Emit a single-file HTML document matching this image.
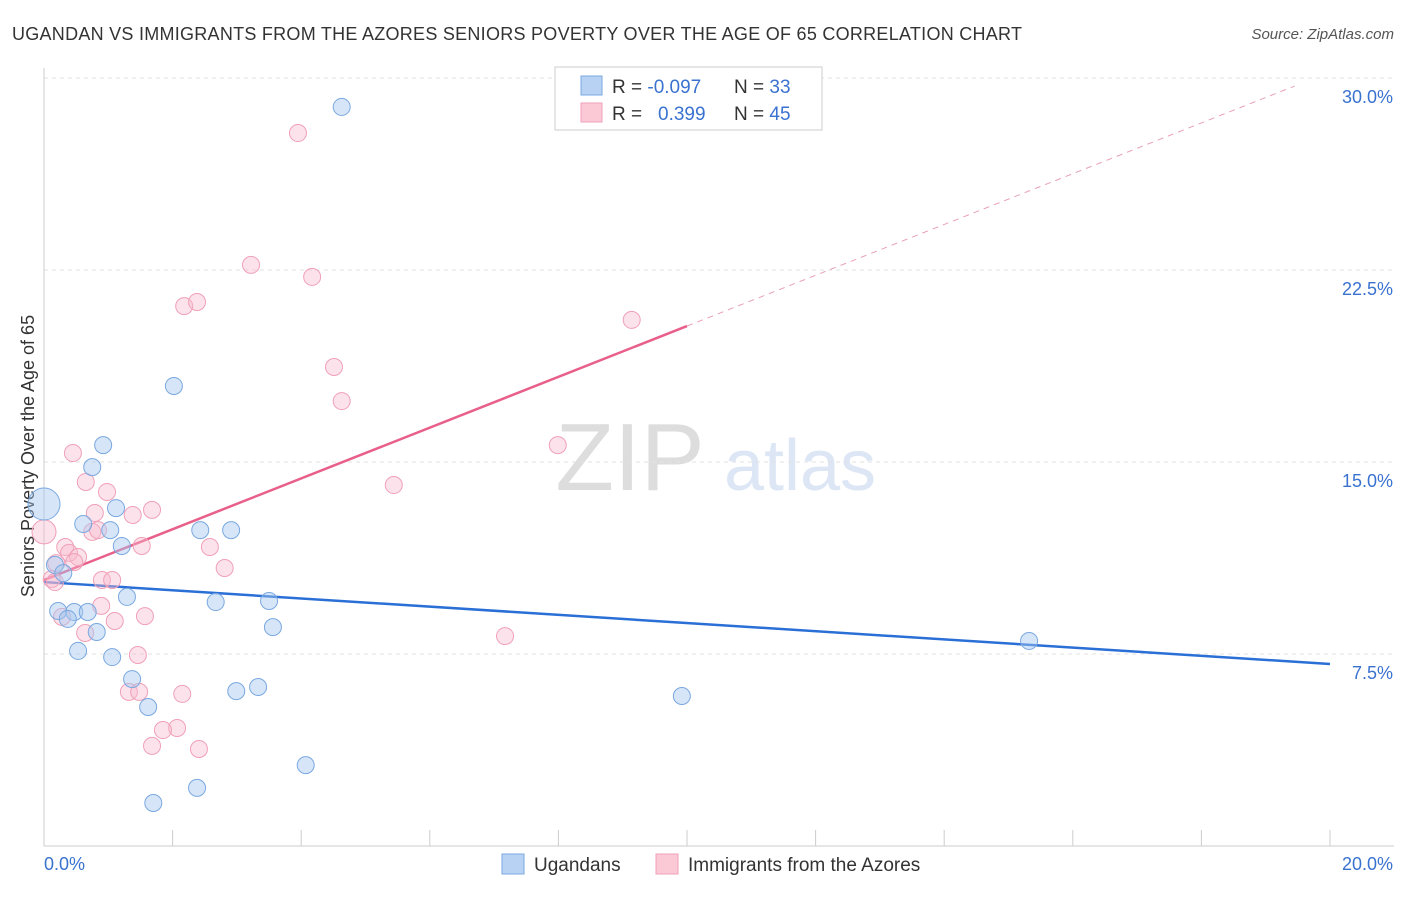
<!DOCTYPE html>
<html><head><meta charset="utf-8"><style>
body{margin:0;background:#fff;font-family:"Liberation Sans",sans-serif;}
svg text{font-family:"Liberation Sans",sans-serif;}
</style></head><body>
<svg id="chart" width="1406" height="892">
<text x="12" y="40" font-size="18" fill="#333" textLength="1010" lengthAdjust="spacing">UGANDAN VS IMMIGRANTS FROM THE AZORES SENIORS POVERTY OVER THE AGE OF 65 CORRELATION CHART</text>
<text x="1394" y="39" font-size="15" fill="#555" font-style="italic" text-anchor="end">Source: ZipAtlas.com</text>
<text x="630" y="490" font-size="96" fill="#ddd" text-anchor="middle" font-family="Liberation Serif">ZIP</text>
<text x="800" y="490" font-size="72" fill="#dce6f5" text-anchor="middle">atlas</text>
<text x="34" y="456" font-size="18" fill="#333" text-anchor="middle" transform="rotate(-90 34 456)">Seniors Poverty Over the Age of 65</text>
<g id="grid"></g><g id="axes"></g><g id="trends"></g><g id="points"></g>
<g>
<rect x="555" y="67" width="267" height="63" fill="#fff" stroke="#ccc"/>
<rect x="581" y="76" width="21" height="19" fill="#b8d2f4" stroke="#7aa8e0"/>
<rect x="581" y="103" width="21" height="19" fill="#fbc8d6" stroke="#f0a0b8"/>
<text x="612" y="93" font-size="19" fill="#333">R = <tspan fill="#3a72d0">-0.097</tspan></text>
<text x="734" y="93" font-size="19" fill="#333">N = <tspan fill="#3a72d0">33</tspan></text>
<text x="612" y="120" font-size="19" fill="#333">R = <tspan fill="#3a72d0" x="658">0.399</tspan></text>
<text x="734" y="120" font-size="19" fill="#333">N = <tspan fill="#3a72d0">45</tspan></text>
</g>
<g>
<rect x="502" y="854" width="22" height="20" fill="#b8d2f4" stroke="#7aa8e0"/>
<text x="534" y="871" font-size="19" fill="#333">Ugandans</text>
<rect x="656" y="854" width="22" height="20" fill="#fbc8d6" stroke="#f0a0b8"/>
<text x="688" y="871" font-size="19" fill="#333">Immigrants from the Azores</text>
</g>
</svg>
<script>
const blueX=[0,4.63,2.02,0.92,0.75,1.12,0.61,1.03,1.21,2.43,2.91,0.17,0.30,1.29,2.67,3.50,0.22,0.47,0.68,0.37,0.82,3.56,0.53,1.06,1.37,2.99,3.33,1.62,4.07,1.70,2.38,9.92,15.32];
const blueY=[13.36,28.87,17.97,15.66,14.80,13.20,12.58,12.34,11.72,12.34,12.34,10.98,10.66,9.73,9.53,9.57,9.18,9.14,9.14,8.87,8.36,8.55,7.62,7.38,6.52,6.05,6.21,5.43,3.16,1.68,2.27,5.86,8.01];
const pinkX=[3.95,3.22,4.17,2.18,2.38,9.14,4.51,4.63,7.99,0.45,5.44,0.65,0.98,1.68,1.38,0.79,0.75,0.84,0,1.52,2.58,0.33,0.39,0.53,0.47,2.81,0.19,0.12,0.17,0.90,1.06,0.89,1.10,1.57,0.28,0.64,7.17,1.46,1.32,1.48,2.15,2.07,1.85,1.68,2.41];
const pinkY=[27.85,22.70,22.23,21.09,21.25,20.55,18.71,17.38,15.66,15.35,14.10,14.22,13.83,13.13,12.93,13.01,12.27,12.34,12.27,11.72,11.68,11.68,11.45,11.29,11.09,10.86,11.05,10.43,10.31,10.39,10.39,9.38,8.79,8.98,8.95,8.32,8.20,7.46,6.02,6.02,5.94,4.61,4.53,3.91,3.79];
const blueTrend=[10.31,7.11];
const pinkTrend=[10.39,20.31];
const pinkSolidEnd=10.0;
const pinkDashEnd=19.45;
const yTicks=[7.5,15,22.5,30];
const yTickLabels=["7.5%","15.0%","22.5%","30.0%"];
const xTicks=[2,4,6,8,10,12,14,16,18,20];
const NS="http://www.w3.org/2000/svg";
const X=v=>44+v*64.3, Y=v=>846-v*25.6;
function mk(t,a,p){const e=document.createElementNS(NS,t);for(const k in a)e.setAttribute(k,a[k]);document.getElementById(p).appendChild(e);return e;}
yTicks.forEach((v,i)=>{
  const g=mk('line',{x1:44,x2:1394,y1:Y(v),y2:Y(v),stroke:'#e2e2e2','stroke-dasharray':'4,4'},'grid');
  
  
  const t=mk('text',{x:1393,y:Y(v)+25,'font-size':18,fill:'#3a72d0','text-anchor':'end'},'axes');
  t.textContent=yTickLabels[i];
  
  
});
const ax=mk('line',{x1:44,x2:44,y1:68,y2:846,stroke:'#ccc'},'axes');


const bx=mk('line',{x1:44,x2:1394,y1:846,y2:846,stroke:'#ccc'},'axes');


xTicks.forEach(v=>{const l=mk('line',{x1:X(v),x2:X(v),y1:830,y2:846,stroke:'#ccc'},'axes');
  
  });
const x0=mk('text',{x:44,y:870,'font-size':18,fill:'#3a72d0'},'axes');x0.textContent='0.0%';


const x1=mk('text',{x:1393,y:870,'font-size':18,fill:'#3a72d0','text-anchor':'end'},'axes');x1.textContent='20.0%';


const bt=mk('line',{x1:X(0),y1:Y(blueTrend[0]),x2:X(20),y2:Y(blueTrend[1]),stroke:'#2a6fd6','stroke-width':2.5},'trends');


const slope=(pinkTrend[1]-pinkTrend[0])/pinkSolidEnd;
const pt=mk('line',{x1:X(0),y1:Y(pinkTrend[0]),x2:X(pinkSolidEnd),y2:Y(pinkTrend[1]),stroke:'#e8608a','stroke-width':2.5},'trends');


const pd=mk('line',{x1:X(pinkSolidEnd),y1:Y(pinkTrend[1]),x2:X(pinkDashEnd),y2:Y(pinkTrend[0]+slope*pinkDashEnd),stroke:'#e8a0b8','stroke-width':1,'stroke-dasharray':'6,5'},'trends');


pinkX.forEach((v,i)=>{const c=mk('circle',{cx:X(v),cy:Y(pinkY[i]),r:v===0?12:8.5,fill:'rgba(248,185,205,0.4)',stroke:'#f0a0b8','stroke-width':1},'points');
  
  });
blueX.forEach((v,i)=>{const c=mk('circle',{cx:X(v),cy:Y(blueY[i]),r:v===0?16:8.5,fill:'rgba(165,200,240,0.45)',stroke:'#7aa8e0','stroke-width':1},'points');
  
  });
</script>
</body></html>
